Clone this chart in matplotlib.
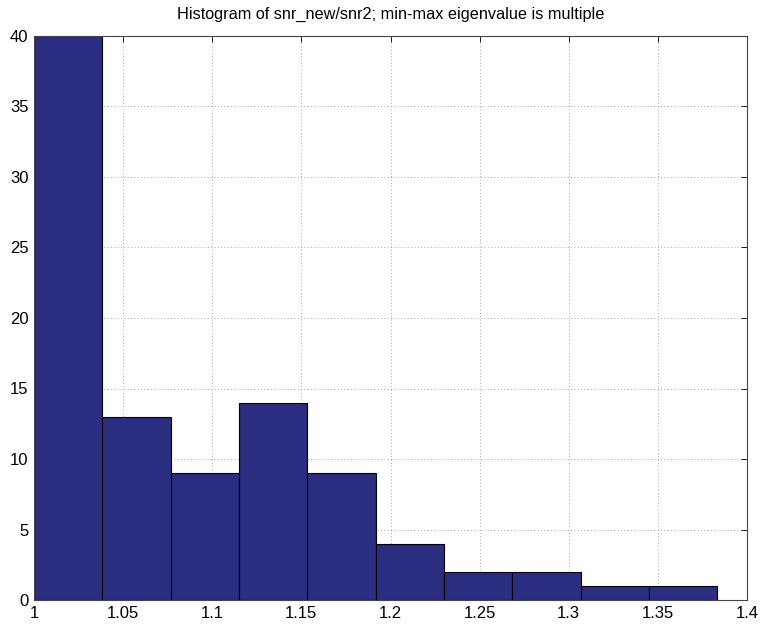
import numpy as np
import matplotlib
matplotlib.use("Agg")
import matplotlib.pyplot as plt

# histogram data
bin_edges = [1.0, 1.03833, 1.07667, 1.115, 1.15333, 1.19167, 1.23, 1.26833, 1.30667, 1.345, 1.38333]
counts = [45, 13, 9, 14, 9, 4, 2, 2, 1, 1]
x_ticks = [1, 1.05, 1.1, 1.15, 1.2, 1.25, 1.3, 1.35, 1.4]
x_tick_labels = ["1", "1.05", "1.1", "1.15", "1.2", "1.25", "1.3", "1.35", "1.4"]
y_ticks = [0, 5, 10, 15, 20, 25, 30, 35, 40]

plt.rcParams["font.family"] = ["Liberation Sans", "DejaVu Sans"]

fig = plt.figure(figsize=(7.62, 6.26), dpi=100)
ax = fig.add_axes([34 / 762, 26 / 626, 713 / 762, 564 / 626])

edges = np.array(bin_edges)
ax.bar(edges[:-1], counts, width=np.diff(edges), align="edge",
       color="#2a2d80", edgecolor="black", linewidth=0.8, zorder=2)

ax.set_xlim(1, 1.4)
ax.set_ylim(0, 40)
ax.set_xticks(x_ticks)
ax.set_xticklabels(x_tick_labels)
ax.set_yticks(y_ticks)
ax.tick_params(direction="in", length=4, width=0.6, top=True, right=True,
               labelsize=12, pad=4)
ax.grid(True, linestyle=(0, (1, 3)), color="#888888", linewidth=0.6, zorder=0)
ax.set_axisbelow(True)
for s in ax.spines.values():
    s.set_linewidth(0.8)
    s.set_color("#444444")
    s.set_zorder(3)

ax.set_title("Histogram of snr_new/snr2; min-max eigenvalue is multiple",
             fontsize=11.7, pad=12)

fig.savefig("out.png", dpi=100)
